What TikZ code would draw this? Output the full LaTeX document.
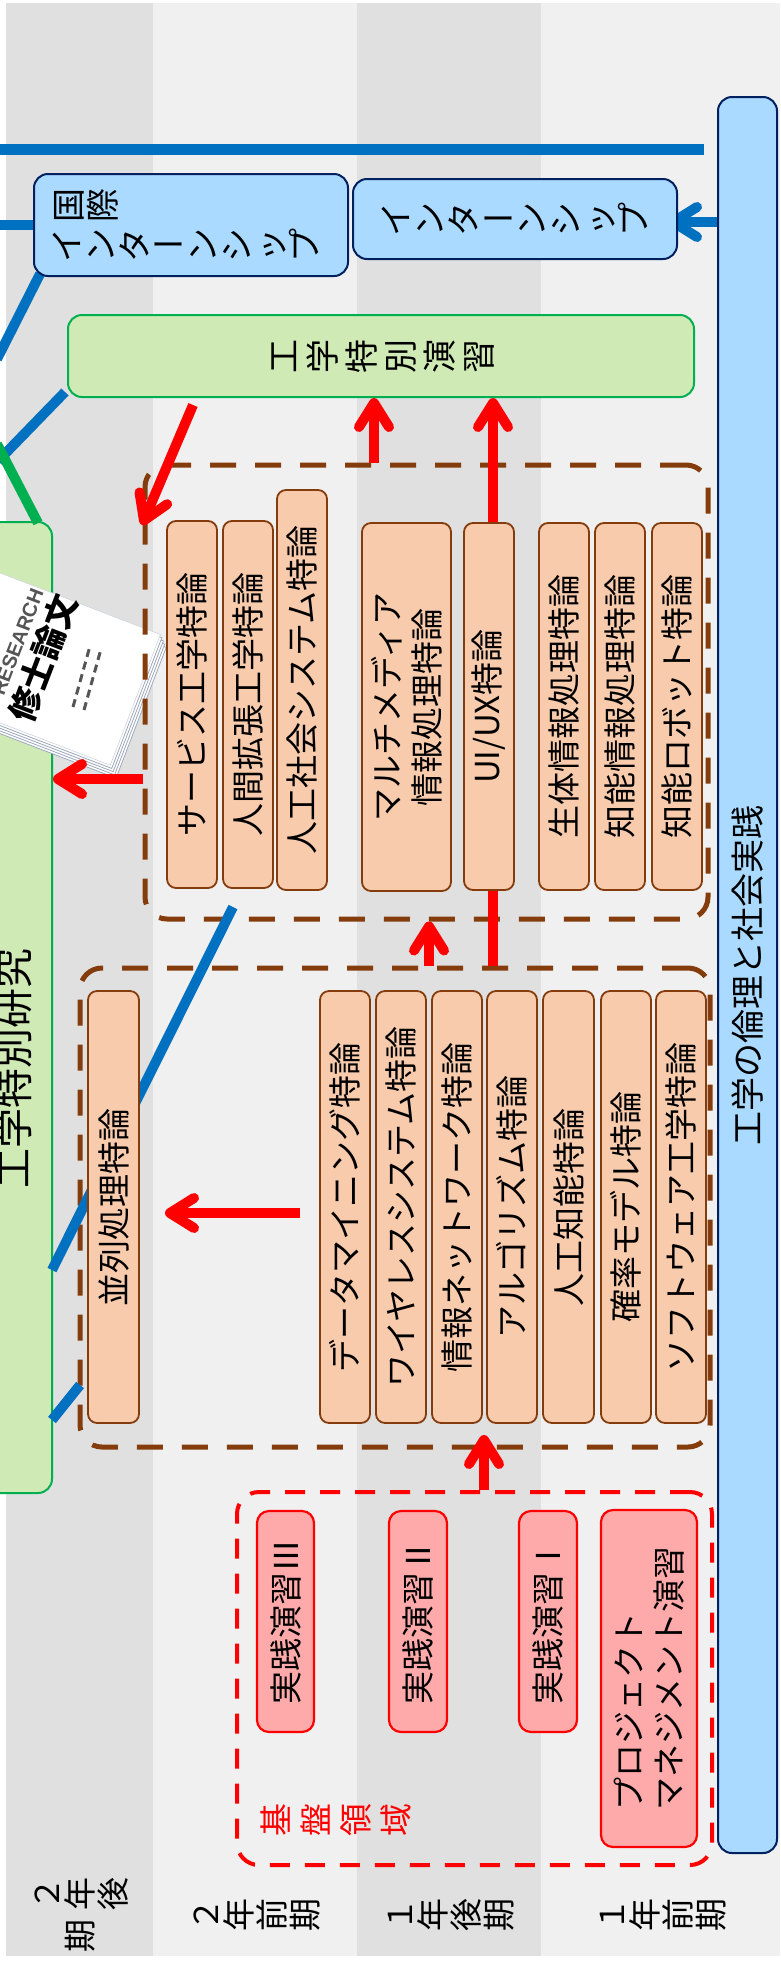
\documentclass[tikz,border=0pt]{standalone}
\usepackage{fontspec}
\setmainfont{Noto Sans CJK JP}
\newfontfamily\latinsans{Liberation Sans}
\usepackage{graphicx}
\usetikzlibrary{arrows.meta}

\definecolor{stripeA}{HTML}{E0E0E0}
\definecolor{stripeB}{HTML}{F0F0F0}
\definecolor{peach}{HTML}{F8CBAD}
\definecolor{brn}{HTML}{843C0C}
\definecolor{pinkf}{HTML}{FFAAAA}
\definecolor{skyf}{HTML}{AADAFF}
\definecolor{navy}{HTML}{002060}
\definecolor{lineblue}{HTML}{0070C0}
\definecolor{greenf}{HTML}{D0EAB6}
\definecolor{greenb}{HTML}{00B050}
\definecolor{pageedge}{HTML}{9DA8BA}
\definecolor{docgray}{HTML}{555555}

\newcommand\setfs[2]{\fontsize{#1}{#2}\selectfont}
% vertical-writing text turned a quarter turn: each glyph sits in a full em box and is rotated,
% the long vowel mark stays flat
\newlength\tategap
\def\tatechar#1{\if ー#1\makebox[1em]{ー}\else\rotatebox[origin=c]{90}{\raisebox{0pt}[0.88em][0.12em]{\makebox[1em]{#1}}}\fi}
\def\tatechars#1{\ifx\relax#1\unskip\else\tatechar{#1}\hspace{\tategap}\expandafter\tatechars\fi}

\pgfdeclarelayer{bg}
\pgfdeclarelayer{docs}
\pgfdeclarelayer{frames}
\pgfdeclarelayer{links}
\pgfsetlayers{bg,docs,frames,links,main}

\tikzset{
  course/.style={draw=brn, fill=peach, line width=1.8pt, rounded corners=9pt, rotate=90,
                 inner sep=0pt, align=center, font=\setfs{33}{40}},
  drill/.style={draw=red, fill=pinkf, line width=2.2pt, rounded corners=12pt, rotate=90,
                inner sep=0pt, font=\setfs{33}{40}},
  brngroup/.style={draw=brn, line width=5pt, dash pattern=on 26pt off 19pt, rounded corners=22pt, inner sep=0pt},
  redgroup/.style={draw=red, line width=4pt, dash pattern=on 20pt off 15pt, rounded corners=22pt, inner sep=0pt},
  skybox/.style={draw=navy, fill=skyf, line width=2pt, rounded corners=14pt, inner sep=0pt},
  greenbox/.style={draw=greenb, fill=greenf, line width=2pt, rounded corners=14pt, inner sep=0pt},
  tatetext/.style={font=\setfs{34}{40}, inner sep=0pt},
  redarrow/.style={draw=red, line width=10pt, -{Straight Barb[length=24pt,width=30pt,round]}},
  bluearrow/.style={draw=lineblue, line width=10pt, -{Straight Barb[length=24pt,width=30pt,round]}},
  blueline/.style={draw=lineblue, line width=10pt},
  greenline/.style={draw=greenb, line width=10pt},
  period/.style={font=\setfs{33}{42}, align=center, inner sep=0pt},
}

\begin{document}
\begin{tikzpicture}[x=1pt, y=-1pt]
\useasboundingbox (0,0) rectangle (780,1966);

% term columns
\begin{pgfonlayer}{bg}
  \fill[white] (0,0) rectangle (780,1966);
  \fill[stripeA] (6,3) rectangle (153,1956);
  \fill[stripeB] (153,3) rectangle (357,1956);
  \fill[stripeA] (357,3) rectangle (541,1956);
  \fill[stripeB] (541,3) rectangle (780,1956);
\end{pgfonlayer}

% master's research bar and thesis sheet
\begin{pgfonlayer}{docs}
  \node[greenbox, minimum width=120pt, minimum height=971pt] (kenkyu) at (-8,1007.5) {};
  \node[rotate=90, font=\setfs{40}{48}, inner sep=0pt] (kenkyutxt) at (13,1068) {工学特別研究};
  \begin{scope}[shift={(42,664)}, rotate=-21]
    \foreach \o in {10,7.5,5,2.5}{
      \filldraw[fill=white, draw=pageedge, line width=0.8pt] (-110+\o,-70+\o) rectangle (100+\o,70+\o);
    }
    \filldraw[fill=white, draw=pageedge!50, line width=0.6pt] (-110,-70) rectangle (100,70);
  \end{scope}
  \node[rotate=69, font=\latinsans\bfseries\setfs{20}{24}, text=docgray, inner sep=0pt] (research) at (17.5,642) {RESEARCH};
  \node[rotate=69, font=\bfseries\setfs{33}{36}, inner sep=0pt] (thesis) at (43,658) {修士論文};
  \coordinate (dA1) at (73,707); \coordinate (dA2) at (90,646);
  \coordinate (dB1) at (84,710); \coordinate (dB2) at (101,649);
  \draw[docgray, line width=3pt, dash pattern=on 8pt off 5pt] (dA1) -- (dA2);
  \draw[docgray, line width=3pt, dash pattern=on 8pt off 5pt] (dB1) -- (dB2);
\end{pgfonlayer}

% dashed course groups
\begin{pgfonlayer}{frames}
  \node[brngroup, minimum width=563pt, minimum height=454pt] (upper) at (426.5,692) {};
  \node[brngroup, minimum width=630pt, minimum height=479pt] (lower) at (395,1207.5) {};
  \node[redgroup, minimum width=475pt, minimum height=373pt] (kiban) at (474.5,1678.5) {};
\end{pgfonlayer}

% top row
\node[skybox, minimum width=314pt, minimum height=102pt] (kokusai) at (191,225) {};
\node[tatetext, anchor=west] (kokusai1) at (51,205) {\tatechars 国際\relax};
\node[tatetext, anchor=west] (kokusai2) at (49,245) {\tatechars インターンシップ\relax};
\node[skybox, minimum width=324pt, minimum height=80pt, font=\setfs{34}{40}] (intern) at (515,219)
  {\tatechars インターンシップ\relax};
\node[greenbox, minimum width=626pt, minimum height=82pt, font=\setfs{34}{40}] (ensyu) at (381,356)
  {\setlength\tategap{5pt}\tatechars 工学特別演習\relax};
\node[skybox, rotate=90, minimum width=1756pt, minimum height=59pt, font=\setfs{34}{40}] (ethics) at (747.5,975)
  {工学の倫理と社会実践};

% upper courses
\node[course, minimum width=367pt, minimum height=50pt] (service) at (192,704.5) {サービス工学特論};
\node[course, minimum width=367pt, minimum height=50pt] (augment) at (248,704.5) {人間拡張工学特論};
\node[course, minimum width=400pt, minimum height=50pt] (artsoc) at (302,690) {人工社会システム特論};
\node[course, minimum width=368pt, minimum height=89pt] (media) at (406.5,707) {マルチメディア\\情報処理特論};
\node[course, minimum width=367pt, minimum height=50pt] (uiux) at (489,706.5) {UI/UX特論};
\node[course, minimum width=367pt, minimum height=50pt] (bio) at (564,706.5) {生体情報処理特論};
\node[course, minimum width=367pt, minimum height=50pt] (intinfo) at (620,706.5) {知能情報処理特論};
\node[course, minimum width=367pt, minimum height=50pt] (robot) at (677,706.5) {知能ロボット特論};

% lower courses
\node[course, minimum width=432pt, minimum height=51pt] (heiretsu) at (113.5,1207) {並列処理特論};
\node[course, minimum width=432pt, minimum height=50pt] (mining) at (345,1207) {データマイニング特論};
\node[course, minimum width=432pt, minimum height=50pt] (wireless) at (401,1207) {ワイヤレスシステム特論};
\node[course, minimum width=432pt, minimum height=50pt] (network) at (457,1207) {情報ネットワーク特論};
\node[course, minimum width=432pt, minimum height=50pt] (algo) at (512,1207) {アルゴリズム特論};
\node[course, minimum width=432pt, minimum height=51pt] (ai) at (568.5,1207) {人工知能特論};
\node[course, minimum width=432pt, minimum height=50pt] (prob) at (626,1207) {確率モデル特論};
\node[course, minimum width=432pt, minimum height=50pt] (soft) at (681,1207) {ソフトウェア工学特論};

% practice courses
\node[drill, minimum width=221pt, minimum height=57pt] (j3) at (285.5,1621.5) {実践演習Ⅲ};
\node[drill, minimum width=221pt, minimum height=58pt] (j2) at (418,1621.5) {実践演習Ⅱ};
\node[drill, minimum width=221pt, minimum height=58pt] (j1) at (548,1621.5) {実践演習Ⅰ};
\node[drill, minimum width=337pt, minimum height=96pt, align=left] (pm) at (649,1678.5) {プロジェクト\\マネジメント演習};
\node[text=red, font=\setfs{33}{40}, inner sep=0pt] (kibanlabel) at (336,1820)
  {\setlength\tategap{7pt}\tatechars 基盤領域\relax};

% term labels
\node[period] (p2b) at (80,1915) {\tatechars ２年後\relax\\\tatechars 期\relax};
\node[period] (p2f) at (255,1915) {\tatechars ２年前期\relax};
\node[period] (p1b) at (449,1915) {\tatechars １年後期\relax};
\node[period] (p1f) at (661,1915) {\tatechars １年前期\relax};

% connectors
\begin{pgfonlayer}{links}
  \coordinate (topL) at (0,149.5);   \coordinate (topR) at (704,149.5);
  \coordinate (kokL) at (0,225);
  \coordinate (kokB) at (40,274);    \coordinate (kokE) at (-3,359);
  \coordinate (ensB) at (65,392);    \coordinate (ensE) at (-2,461);
  \coordinate (grS) at (-3,444);     \coordinate (grE) at (38,523);
  \coordinate (bl1) at (233,907);    \coordinate (bl2) at (52,1270);
  \coordinate (bl3) at (80,1385);    \coordinate (bl4) at (52,1420);
  \draw[blueline, line width=11pt] (topL) -- (topR);
  \draw[blueline] (kokL) -- (kokusai.west);
  \draw[blueline] (kokB) -- (kokE);
  \draw[blueline] (ensB) -- (ensE);
  \draw[greenline] (grS) -- (grE);
  \draw[blueline] (bl1) -- (bl2);
  \draw[blueline] (bl3) -- (bl4);

  \coordinate (colA) at (374,0);
  \coordinate (colB) at (493,0);
  \coordinate (colC) at (429,0);
  \coordinate (rowE) at (0,779);
  \coordinate (aTail) at (193,405);  \coordinate (aTip) at (142,525);
  \coordinate (fTail) at (300,1213); \coordinate (fTip) at (165,1213);
  \coordinate (gTip) at (484,1435);
  \coordinate (hTail) at (718,222);  \coordinate (hTip) at (668,222);
  \draw[redarrow] (aTail) -- (aTip);
  \draw[redarrow] (upper.north -| colA) -- (ensyu.south -| colA);
  \draw[redarrow] (lower.north -| colB) -- (ensyu.south -| colB);
  \draw[redarrow] (lower.north -| colC) -- (upper.south -| colC);
  \draw[redarrow] (upper.west |- rowE) -- (kenkyu.east |- rowE);
  \draw[redarrow] (fTail) -- (fTip);
  \draw[redarrow] (kiban.north -| gTip) -- (gTip);
  \draw[bluearrow] (hTail) -- (hTip);
\end{pgfonlayer}
\end{tikzpicture}
\end{document}
